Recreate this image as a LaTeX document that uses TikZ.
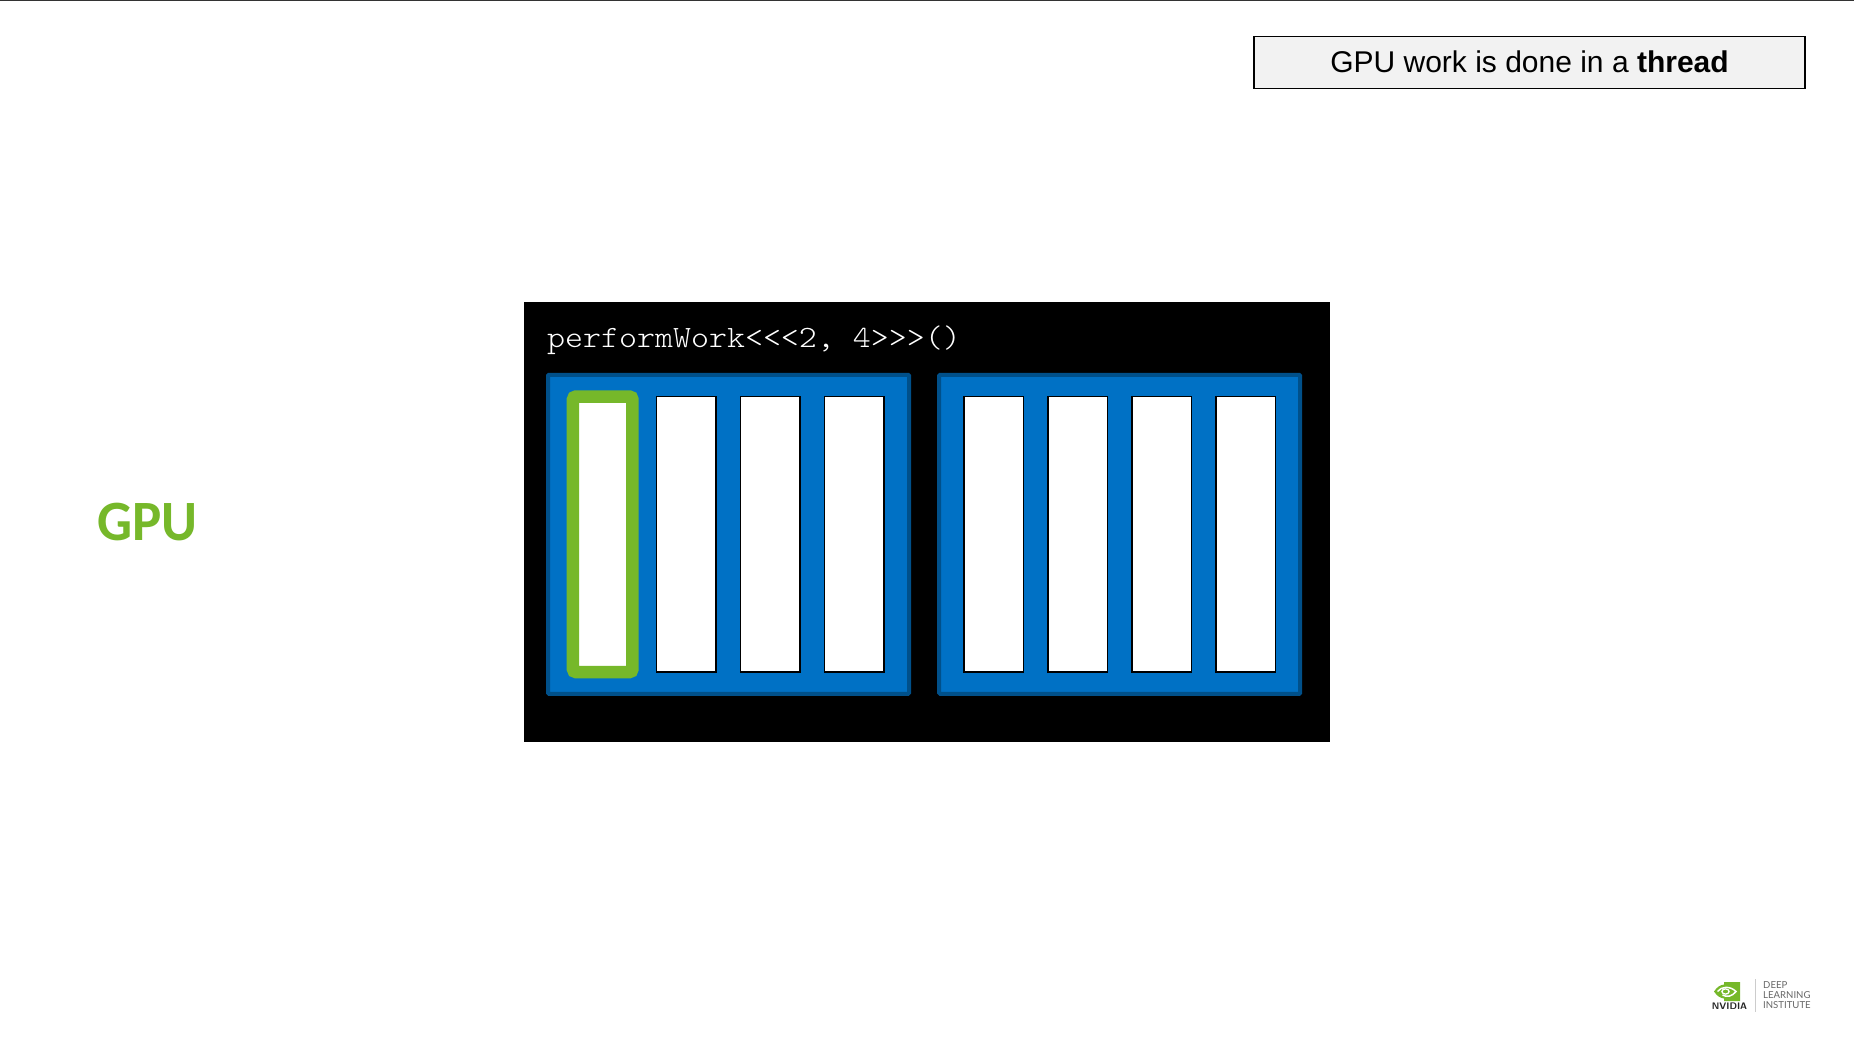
\documentclass[tikz,border=0pt]{standalone}
\usepackage{fontspec}
\setmainfont{Liberation Sans}
\newfontfamily\gpufont[FakeStretch=0.965]{Carlito}
\newfontfamily\logofont{Lato}
\newfontfamily\callfont[FakeStretch=1.105]{Latin Modern Mono Light}
\definecolor{nvgreen}{HTML}{76B82A}
\definecolor{gpublue}{HTML}{0071C5}
\definecolor{gpuedge}{HTML}{00508A}
\definecolor{captionfill}{HTML}{F2F2F2}
\definecolor{logogray}{HTML}{666666}
\tikzset{
	core/.style = {draw = gpuedge, line width = 4pt, fill = gpublue, rounded corners = 1pt, minimum width = 361pt, minimum height = 319pt, inner sep = 0pt},
	lane/.style = {draw = black, line width = 1.5pt, fill = white, minimum width = 59.5pt, minimum height = 275.5pt, inner sep = 0pt},
	activelane/.style = {lane, draw = nvgreen, line width = 12.5pt, rounded corners = 3pt},
	logoline/.style = {font = \logofont\fontsize{9.6}{10}\selectfont, text = logogray, anchor = west, inner sep = 0pt}
}
\begin{document}
\begin{tikzpicture}[x = 1pt, y = -1pt]
	\useasboundingbox (0, 0) rectangle (1854, 1041);
	\fill[white] (0, 0) rectangle (1854, 1041);

	% top rule
	\coordinate (ruleleft) at (0, 0.7);
	\coordinate (ruleright) at (1854, 0.7);
	\draw[line width = 1.4pt, black!80] (ruleleft) -- (ruleright);

	% caption
	\node[draw = black, line width = 1.5pt, fill = captionfill, minimum width = 551pt, minimum height = 52pt, inner sep = 0pt, text height = 22pt, text depth = 2.5pt, font = \fontsize{30}{36}\selectfont] (caption) at (1529.5, 62.3) {GPU work is done in a \textbf{thread}};

	% label
	\node[text = nvgreen, font = \gpufont\bfseries\fontsize{57}{60}\selectfont, inner sep = 0pt] (gpulabel) at (147.2, 522.5) {GPU};

	% gang
	\node[fill = black, minimum width = 806pt, minimum height = 440pt, inner sep = 0pt] (gang) at (927, 522.3) {};
	\node[text = white, font = \callfont\fontsize{31}{33}\selectfont, anchor = west, inner sep = 0pt] (call) at (547, 340.4) {performWork<{}<{}<2, 4>{}>{}>()};

	% vectors
	\node[core] (coreleft) at (728.5, 534.3) {};
	\node[core] (coreright) at (1119.7, 534.3) {};

	% workers
	\node[activelane] (laneA) at (602.7, 534.3) {};
	\node[lane] (laneB) at (686.2, 534.3) {};
	\node[lane] (laneC) at (770.2, 534.3) {};
	\node[lane] (laneD) at (854.2, 534.3) {};
	\node[lane] (laneE) at (993.7, 534.3) {};
	\node[lane] (laneF) at (1077.7, 534.3) {};
	\node[lane] (laneG) at (1161.7, 534.3) {};
	\node[lane] (laneH) at (1245.7, 534.3) {};

	% logo
	\fill[nvgreen] (1714, 991.5) .. controls (1717, 987) and (1720, 985) .. (1724, 984.5) -- (1724, 982) -- (1740, 982) -- (1740, 1001) -- (1724, 1001) -- (1724, 998.5) .. controls (1720, 998) and (1717, 996) .. (1714, 991.5) -- cycle;
	\draw[white, line width = 1.5pt] (1717.5, 991.5) .. controls (1721, 986.5) and (1730, 985.5) .. (1736, 991.5) .. controls (1732, 996.5) and (1727, 997.5) .. (1722.5, 995);
	\draw[white, line width = 1.3pt] (1725.5, 991.5) ellipse (3.6pt and 2.6pt);
	\node[font = \sffamily\bfseries\fontsize{9.5}{10}\selectfont, text = black!85, inner sep = 0pt] (nvidia) at (1729.5, 1006) {NVIDIA};
	\coordinate (splittop) at (1755, 979);
	\coordinate (splitbottom) at (1755, 1012);
	\draw[line width = 0.6pt, black!20] (splittop) -- (splitbottom);
	\node[logoline] (deep) at (1763, 985) {DEEP};
	\node[logoline] (learning) at (1763, 995.5) {LEARNING};
	\node[logoline] (institute) at (1763, 1005.5) {INSTITUTE};
\end{tikzpicture}
\end{document}
